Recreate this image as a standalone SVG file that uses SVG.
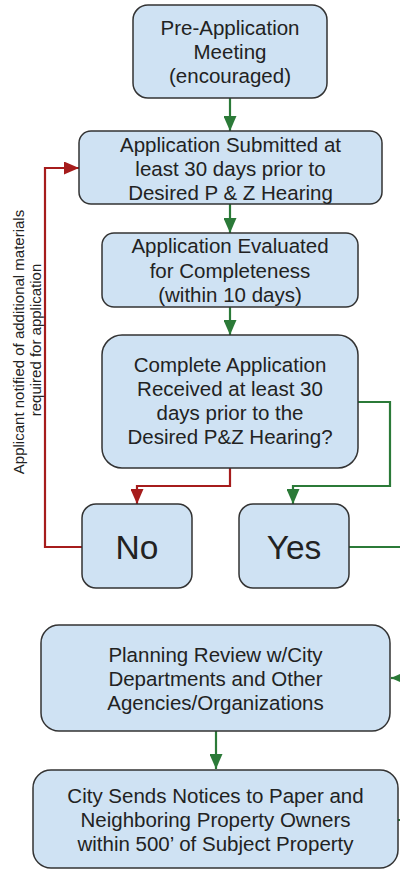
<svg xmlns="http://www.w3.org/2000/svg" width="400" height="870" viewBox="0 0 400 870">
<style>
.box{fill:#cfe2f3;stroke:#333;stroke-width:1.5}
.t{font-family:"Liberation Sans",Arial,sans-serif;font-size:20.5px;fill:#222;text-anchor:middle}
.big{font-family:"Liberation Sans",Arial,sans-serif;font-size:33.5px;fill:#222;text-anchor:middle}
.side{font-family:"Liberation Sans",Arial,sans-serif;font-size:15px;fill:#222;text-anchor:middle}
.g{fill:none;stroke:#2b7a38;stroke-width:2.2}
.r{fill:none;stroke:#a61c1c;stroke-width:2.2}
</style>
<defs>
<marker id="ag" markerUnits="userSpaceOnUse" markerWidth="15" markerHeight="13" refX="15" refY="6.5" orient="auto"><path d="M0,0 L15,6.5 L0,13 z" fill="#2b7a38"/></marker>
<marker id="ar" markerUnits="userSpaceOnUse" markerWidth="15" markerHeight="13" refX="15" refY="6.5" orient="auto"><path d="M0,0 L15,6.5 L0,13 z" fill="#a61c1c"/></marker>
</defs>
<g id="connectors">
<path class="g" d="M230,98 V131" marker-end="url(#ag)"/>
<path class="g" d="M230,204 V233" marker-end="url(#ag)"/>
<path class="g" d="M230,307 V335" marker-end="url(#ag)"/>
<path class="r" d="M230,468 V486 H137 V504" marker-end="url(#ar)"/>
<path class="g" d="M358,402 H390 V486 H293 V504" marker-end="url(#ag)"/>
<path class="r" d="M82,547 H45 V168 H79" marker-end="url(#ar)"/>
<path class="g" d="M349,547 H400"/>
<path class="g" d="M404,678 H391" marker-end="url(#ag)"/>
<path class="g" d="M216,731 V769" marker-end="url(#ag)"/>
<path class="g" d="M398,820 H400"/>
</g>
<g id="side-label">
<text class="side" transform="translate(24,342) rotate(-90)">Applicant notified of additional materials</text>
<text class="side" transform="translate(41,340) rotate(-90)">required for application</text>
</g>
<g id="pre-app">
<rect class="box" x="133" y="5" width="194" height="93" rx="15"/>
<text class="t" x="230" y="35">Pre-Application</text>
<text class="t" x="230" y="59">Meeting</text>
<text class="t" x="230" y="83">(encouraged)</text>
</g>
<g id="submitted">
<rect class="box" x="79" y="131" width="303" height="73" rx="12"/>
<text class="t" x="230.5" y="152">Application Submitted at</text>
<text class="t" x="230.5" y="176">least 30 days prior to</text>
<text class="t" x="230.5" y="200">Desired P &amp; Z Hearing</text>
</g>
<g id="evaluated">
<rect class="box" x="102" y="233" width="256" height="74" rx="12"/>
<text class="t" x="230" y="253">Application Evaluated</text>
<text class="t" x="230" y="278">for Completeness</text>
<text class="t" x="230" y="302">(within 10 days)</text>
</g>
<g id="complete">
<rect class="box" x="102" y="335" width="256" height="133" rx="20"/>
<text class="t" x="230" y="372">Complete Application</text>
<text class="t" x="230" y="396">Received at least 30</text>
<text class="t" x="230" y="420">days prior to the</text>
<text class="t" x="230" y="444">Desired P&amp;Z Hearing?</text>
</g>
<g id="no">
<rect class="box" x="82" y="504" width="110" height="84" rx="14"/>
<text class="big" x="137" y="559">No</text>
</g>
<g id="yes">
<rect class="box" x="239" y="504" width="110" height="84" rx="14"/>
<text class="big" x="294" y="559">Yes</text>
</g>
<g id="planning">
<rect class="box" x="41" y="625" width="349" height="106" rx="18"/>
<text class="t" x="215.5" y="662">Planning Review w/City</text>
<text class="t" x="215.5" y="686">Departments and Other</text>
<text class="t" x="215.5" y="710">Agencies/Organizations</text>
</g>
<g id="notices">
<rect class="box" x="33" y="770" width="365" height="98" rx="18"/>
<text class="t" x="215.5" y="803">City Sends Notices to Paper and</text>
<text class="t" x="215.5" y="827">Neighboring Property Owners</text>
<text class="t" x="215.5" y="851">within 500’ of Subject Property</text>
</g>
</svg>
